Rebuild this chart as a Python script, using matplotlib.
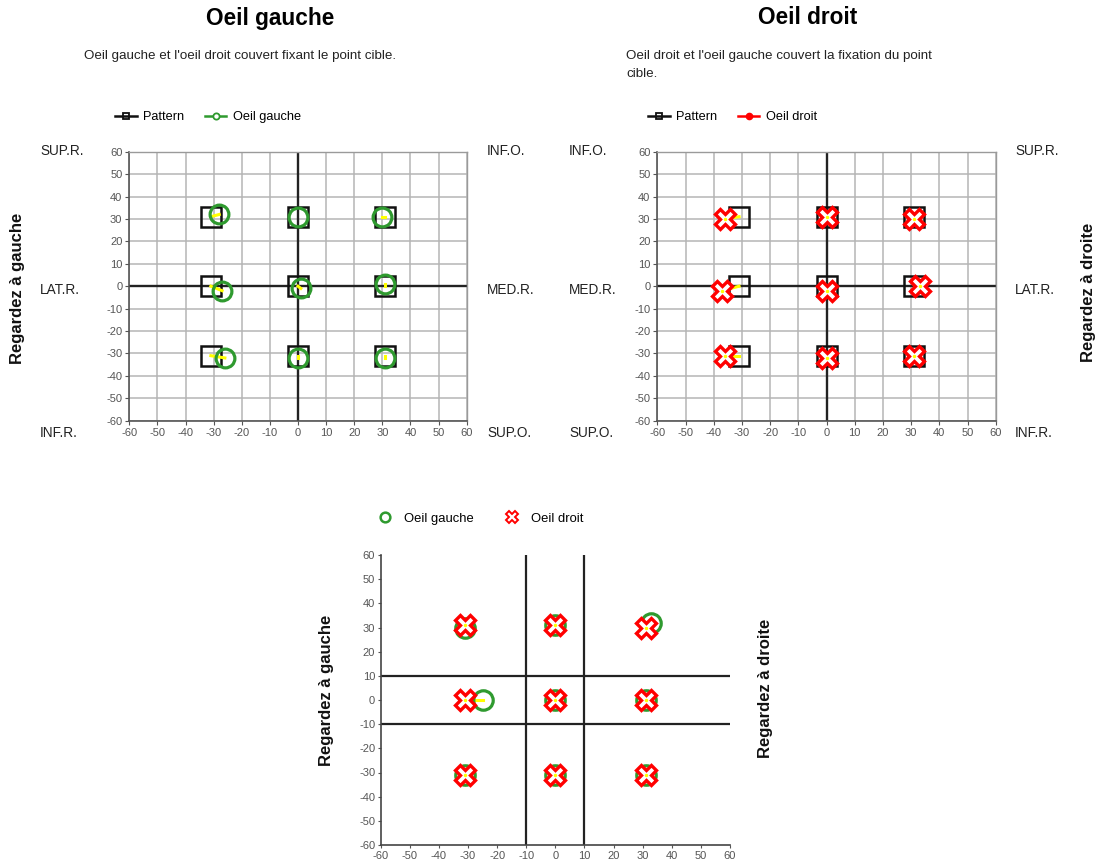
import matplotlib
matplotlib.use("Agg")
import matplotlib.pyplot as plt
from matplotlib.lines import Line2D

plt.rcParams['font.family'] = ['Liberation Sans', 'DejaVu Sans']
plt.rcParams['axes.unicode_minus'] = False

W, H = 1101, 867

# ---------------- data ----------------
ticks = [-60, -50, -40, -30, -20, -10, 0, 10, 20, 30, 40, 50, 60]

pattern_x = [-31, 0, 31, -31, 0, 31, -31, 0, 31]
pattern_y = [31, 31, 31, 0, 0, 0, -31, -31, -31]

# left eye (top-left chart)
og_x = [-28, 0, 30, -27, 1, 31, -26, 0, 31]
og_y = [32, 31, 31, -2, -1, 1, -32, -32, -32]

# right eye (top-right chart)
od_x = [-36, 0, 31, -37, 0, 33, -36, 0, 31]
od_y = [30, 31, 30, -2, -2, 0, -31, -32, -31]

# combined (bottom chart)
bg_x = [-31, 0, 33, -25, 0, 31, -31, 0, 31]
bg_y = [30, 31, 32, 0, 0, 0, -31, -31, -31]
bd_x = [-31, 0, 31, -31, 0, 31, -31, 0, 31]
bd_y = [31, 31, 30, 0, 0, 0, -31, -31, -31]

GREEN = '#2f9a2f'
RED = '#ff0000'
YELLOW = '#ffff00'
TICKC = '#555555'

fig = plt.figure(figsize=(W / 100, H / 100), dpi=100)


def box(l, r, t, b):
    return [l / W, 1 - b / H, (r - l) / W, (b - t) / H]


def ftext(x, y, s, **kw):
    fig.text(x / W, 1 - y / H, s, **kw)


def style_grid_axes(ax):
    ax.set_xlim(-60, 60)
    ax.set_ylim(-60, 60)
    ax.set_xticks(ticks)
    ax.set_yticks(ticks)
    ax.tick_params(labelsize=8, colors=TICKC, length=3, width=0.8, pad=2)
    ax.grid(True, color='#b5b5b5', lw=1.1)
    ax.set_axisbelow(True)
    ax.axhline(0, color='#222222', lw=1.7, zorder=1.5)
    ax.axvline(0, color='#222222', lw=1.7, zorder=1.5)
    for s in ['top', 'right']:
        ax.spines[s].set_color('#9a9a9a')
        ax.spines[s].set_linewidth(1.0)
    for s in ['left', 'bottom']:
        ax.spines[s].set_color('#555555')
        ax.spines[s].set_linewidth(1.2)


# ---------------- top-left: Oeil gauche ----------------
ax1 = fig.add_axes(box(129.3, 466.7, 151.7, 420.7))
style_grid_axes(ax1)
for px, py, mx, my in zip(pattern_x, pattern_y, og_x, og_y):
    ax1.plot([px, mx], [py, my], color=YELLOW, lw=2.2, zorder=3.5)
ax1.plot(pattern_x, pattern_y, ls='none', marker='s', ms=14, mfc='none',
         mec='#111111', mew=1.8, zorder=3)
ax1.plot(og_x, og_y, ls='none', marker='o', ms=13.5, mfc='none',
         mec=GREEN, mew=2.3, zorder=4)

# ---------------- top-right: Oeil droit ----------------
ax2 = fig.add_axes(box(657.3, 995.7, 151.7, 420.7))
style_grid_axes(ax2)
ax2.plot(pattern_x, pattern_y, ls='none', marker='s', ms=14, mfc='none',
         mec='#111111', mew=1.8, zorder=3)
for px, py, mx, my in zip(pattern_x, pattern_y, od_x, od_y):
    ax2.plot([px, mx], [py, my], color=YELLOW, lw=2.2, zorder=3.5)
ax2.plot(od_x, od_y, ls='none', marker='X', ms=15, mfc='white',
         mec=RED, mew=2.4, zorder=4)
ax2.plot(od_x, od_y, ls='none', marker='.', ms=3, color=YELLOW, zorder=4.5)

# ---------------- bottom: combined ----------------
ax3 = fig.add_axes(box(380.7, 730, 555, 845))
ax3.set_xlim(-60, 60)
ax3.set_ylim(-60, 60)
ax3.set_xticks(ticks)
ax3.set_yticks(ticks)
ax3.tick_params(labelsize=8, colors=TICKC, length=2, width=0.8, pad=2)
for s in ['top', 'right']:
    ax3.spines[s].set_visible(False)
for s in ['left', 'bottom']:
    ax3.spines[s].set_color('#444444')
    ax3.spines[s].set_linewidth(1.2)
for v in (-10, 10):
    ax3.axvline(v, color='#222222', lw=1.6, zorder=1)
    ax3.axhline(v, color='#222222', lw=1.6, zorder=1)
for gx, gy, dx, dy in zip(bg_x, bg_y, bd_x, bd_y):
    ax3.plot([gx, dx], [gy, dy], color=YELLOW, lw=2.2, zorder=2.5)
ax3.plot(bg_x, bg_y, ls='none', marker='o', ms=14, mfc='none',
         mec=GREEN, mew=2.3, zorder=3)
ax3.plot(bd_x, bd_y, ls='none', marker='X', ms=15, mfc='white',
         mec=RED, mew=2.4, zorder=4)
ax3.plot(bd_x, bd_y, ls='none', marker='.', ms=3, color=YELLOW, zorder=4.5)

# ---------------- legends ----------------
h_pat = Line2D([], [], color='#111111', lw=1.8, marker='s', ms=4.5,
               mfc='none', mec='#111111', mew=1.3)
h_og = Line2D([], [], color=GREEN, lw=1.8, marker='o', ms=4.5,
              mfc='white', mec=GREEN, mew=1.3)
h_od = Line2D([], [], color=RED, lw=1.8, marker='o', ms=4.5,
              mfc=RED, mec=RED)
leg_kw = dict(frameon=False, fontsize=9.2, ncol=2, handlelength=1.7,
              handletextpad=0.5, columnspacing=1.6, loc='center left',
              bbox_transform=fig.transFigure, borderaxespad=0, borderpad=0)
fig.legend([h_pat, h_og], ['Pattern', 'Oeil gauche'],
           bbox_to_anchor=(115 / W, 1 - 117 / H), **leg_kw)
fig.legend([h_pat, h_od], ['Pattern', 'Oeil droit'],
           bbox_to_anchor=(648 / W, 1 - 117 / H), **leg_kw)

h_bg = Line2D([], [], ls='none', marker='o', ms=7, mfc='none', mec=GREEN,
              mew=1.8)
h_bd = Line2D([], [], ls='none', marker='X', ms=8, mfc='white', mec=RED,
              mew=1.4)
fig.legend([h_bg, h_bd], ['Oeil gauche', 'Oeil droit'],
           bbox_to_anchor=(376 / W, 1 - 519 / H), frameon=False,
           fontsize=9.4, ncol=2, handlelength=1.4, handletextpad=0.75,
           columnspacing=2.2, loc='center left',
           bbox_transform=fig.transFigure, borderaxespad=0, borderpad=0)

# ---------------- titles & labels ----------------
ftext(270, 18, 'Oeil gauche', fontsize=16.3, fontweight='bold',
      ha='center', va='center')
ftext(808, 18, 'Oeil droit', fontsize=16.3, fontweight='bold',
      ha='center', va='center')
sub_kw = dict(fontsize=9.6, ha='left', va='center', color='#222222')
ftext(84, 56, "Oeil gauche et l'oeil droit couvert fixant le point cible.",
      **sub_kw)
ftext(626, 56, "Oeil droit et l'oeil gauche couvert la fixation du point",
      **sub_kw)
ftext(626, 74, "cible.", **sub_kw)

lab_kw = dict(fontsize=9.8, ha='left', va='center', color='#222222')
# left chart corners
ftext(40, 151, 'SUP.R.', **lab_kw)
ftext(40, 290, 'LAT.R.', **lab_kw)
ftext(40, 433, 'INF.R.', **lab_kw)
ftext(487, 151, 'INF.O.', **lab_kw)
ftext(487, 290, 'MED.R.', **lab_kw)
ftext(487, 433, 'SUP.O.', **lab_kw)
# right chart corners
ftext(569, 151, 'INF.O.', **lab_kw)
ftext(569, 290, 'MED.R.', **lab_kw)
ftext(569, 433, 'SUP.O.', **lab_kw)
ftext(1015, 151, 'SUP.R.', **lab_kw)
ftext(1015, 290, 'LAT.R.', **lab_kw)
ftext(1015, 433, 'INF.R.', **lab_kw)

side_kw = dict(fontsize=12, fontweight='bold', rotation=90,
               ha='center', va='center', color='#111111')
ftext(18, 288, 'Regardez à gauche', **side_kw)
ftext(1088, 292, 'Regardez à droite', **side_kw)
ftext(326, 690, 'Regardez à gauche', **side_kw)
ftext(766, 688, 'Regardez à droite', **side_kw)

fig.savefig('out.png', dpi=100, facecolor='white')
